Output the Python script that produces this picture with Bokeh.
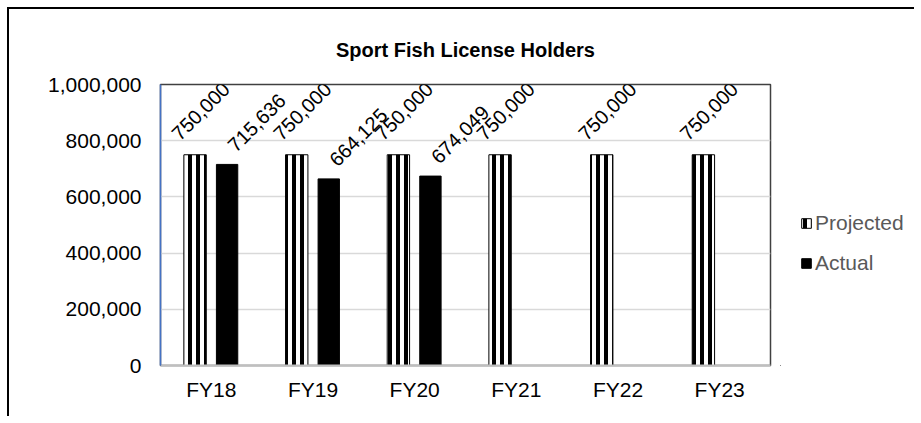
import math
from bokeh.plotting import figure
from bokeh.layouts import row
from bokeh.models import (ColumnDataSource, FactorRange, Range1d, Legend, LegendItem,
                          NumeralTickFormatter, FixedTicker)
from bokeh.transform import dodge
from bokeh.core.properties import value
from bokeh.embed import file_html
from bokeh.resources import INLINE

years = ["FY18", "FY19", "FY20", "FY21", "FY22", "FY23"]
projected = [750000, 750000, 750000, 750000, 750000, 750000]
actual = [715636, 664125, 674049, float("nan"), float("nan"), float("nan")]
y_ticks = [0, 200000, 400000, 600000, 800000, 1000000]
series_names = ["Projected", "Actual"]

FONT = "Liberation Sans"

src_p = ColumnDataSource(dict(years=years, val=projected,
                              lab=[f"{v:,}" for v in projected]))
act_years = [y for y, v in zip(years, actual) if v == v]
act_vals = [v for v in actual if v == v]
src_a = ColumnDataSource(dict(years=act_years, val=act_vals,
                              lab=[f"{int(v):,}" for v in act_vals]))

P_STYLE = dict(fill_color="white", line_color="black", line_width=1,
               hatch_pattern="vertical_line", hatch_color="black", hatch_scale=8, hatch_weight=4)
A_STYLE = dict(fill_color="black", line_color="black")

p = figure(x_range=FactorRange(*years), y_range=Range1d(0, 1000000),
           width=771, height=407, output_backend="svg", toolbar_location=None,
           min_border_left=151, min_border_right=10, min_border_top=75,
           min_border_bottom=51)

p.title.text = "Sport Fish License Holders"
p.title.align = "center"
p.title.text_font = FONT
p.title.text_font_size = "20px"
p.title.text_font_style = "bold"
p.title.text_color = "black"
p.title.standoff = 47

p.outline_line_color = "#404040"
p.outline_line_width = 1.5

p.vbar(x=dodge("years", -0.16, range=p.x_range), top="val", width=0.22, source=src_p, **P_STYLE)
p.vbar(x=dodge("years", 0.155, range=p.x_range), top="val", width=0.21, source=src_a, **A_STYLE)

p.text(x=dodge("years", -0.16, range=p.x_range), y="val", text="lab", source=src_p,
       angle=math.pi / 4, text_align="left", text_baseline="alphabetic",
       x_offset=-20, y_offset=-18, text_font=value(FONT), text_font_size="20px",
       text_color="black")
p.text(x=dodge("years", 0.155, range=p.x_range), y="val", text="lab", source=src_a,
       angle=math.pi / 4, text_align="left", text_baseline="alphabetic",
       x_offset=4, y_offset=-16, text_font=value(FONT), text_font_size="20px",
       text_color="black")

p.yaxis.ticker = FixedTicker(ticks=y_ticks)
p.yaxis.formatter = NumeralTickFormatter(format="0,0")
p.yaxis.axis_line_color = "#4472C4"
p.yaxis.axis_line_width = 1.5
p.yaxis.major_tick_line_color = None
p.yaxis.minor_tick_line_color = None
p.yaxis.major_label_text_font = FONT
p.yaxis.major_label_text_font_size = "21px"
p.yaxis.major_label_text_color = "black"
p.yaxis.major_label_standoff = 13

p.xaxis.axis_line_color = "#BFBFBF"
p.xaxis.axis_line_width = 2
p.xaxis.major_tick_line_color = None
p.xaxis.minor_tick_line_color = None
p.xaxis.major_label_text_font = FONT
p.xaxis.major_label_text_font_size = "21px"
p.xaxis.major_label_text_color = "black"
p.xaxis.major_label_standoff = 6

p.xgrid.grid_line_color = None
p.ygrid.grid_line_color = "#D9D9D9"
p.ygrid.grid_line_width = 1.5
p.ygrid.ticker = FixedTicker(ticks=y_ticks)

# legend panel (separate figure so the legend is not clipped by the plot frame)
lf = figure(width=134, height=407, output_backend="svg", toolbar_location=None,
            x_range=Range1d(0, 1), y_range=Range1d(0, 1),
            min_border_left=0, min_border_right=0, min_border_top=0, min_border_bottom=0)
lf.axis.visible = False
lf.grid.visible = False
lf.outline_line_color = None
# legend proxies, kept outside the visible range of the legend panel
lr_p = lf.vbar(x=[-5], top=[-5], bottom=[-6], width=0.1, **P_STYLE)
lr_a = lf.vbar(x=[-5], top=[-5], bottom=[-6], width=0.1, **A_STYLE)
legend = Legend(items=[LegendItem(label=series_names[0], renderers=[lr_p]),
                       LegendItem(label=series_names[1], renderers=[lr_a])],
                location=(20, 90), orientation="vertical")
legend.background_fill_alpha = 0
legend.border_line_color = None
legend.label_text_font = FONT
legend.label_text_font_size = "21px"
legend.label_text_color = "#595959"
legend.glyph_width = 12
legend.glyph_height = 12
legend.label_standoff = 3
legend.spacing = 16
legend.padding = 0
legend.margin = 0
lf.add_layout(legend, "center")

layout = row(p, lf)
layout.styles = {"border-left": "2px solid #000000", "border-top": "2px solid #000000",
                 "margin-left": "7px", "margin-top": "7px"}

open("out.html", "w").write(file_html(layout, INLINE))
